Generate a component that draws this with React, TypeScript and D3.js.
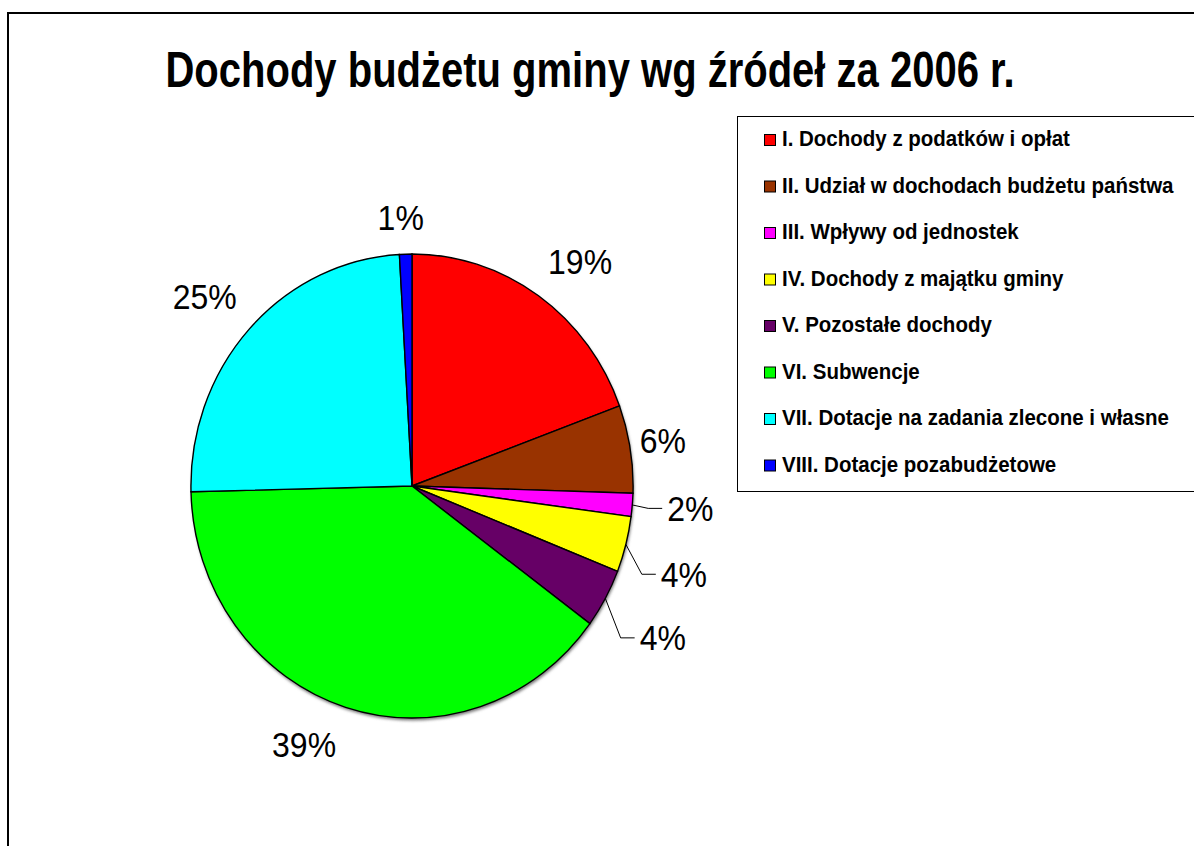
import React from "react";
import * as d3 from "d3";

const categories = [
  "I. Dochody z podatków i opłat",
  "II. Udział w dochodach budżetu państwa",
  "III. Wpływy od jednostek",
  "IV. Dochody z majątku gminy",
  "V. Pozostałe dochody",
  "VI. Subwencje",
  "VII. Dotacje na zadania zlecone i własne",
  "VIII. Dotacje pozabudżetowe",
];
const values = [19.4, 6.1, 1.6, 3.9, 4.1, 39.5, 24.5, 0.9];
const percentLabels = ["19%", "6%", "2%", "4%", "4%", "39%", "25%", "1%"];
const colors = ["#FF0000", "#993300", "#FF00FF", "#FFFF00", "#660066", "#00FF00", "#00FFFF", "#0000FF"];
// label placement: [angle shift from slice middle (deg), radius factor], leader line flag
const labelShift = [3.2, -0.5, -0.3, 2.6, 1.0, 6.2, -1.7, -0.9];
const labelRadius = [1.232, 1.151, 1.263, 1.288, 1.31, 1.217, 1.242, 1.16];
const hasLeader = [false, false, true, true, true, false, false, false];

const title = "Dochody budżetu gminy wg źródeł za 2006 r.";

export default function App() {
  const W = 1194, H = 846;
  const cx = 412, cy = 486, rx = 221, ry = 232;
  const pie = d3.pie<number>().sort(null).value((d) => d)(values);
  const arc = d3.arc<d3.PieArcDatum<number>>().innerRadius(0).outerRadius(1);
  const fs = 32;
  const font = "'Liberation Sans', Arial, sans-serif";
  const ptAt = (a: number, r: number) => [cx + rx * r * Math.sin(a), cy - ry * r * Math.cos(a)];

  const legendY0 = 146, legendStep = 46.5;

  return (
    <svg width={W} height={H} style={{ position: "absolute", left: 0, top: 0 }} fontFamily={font}>
      <defs>
        <filter id="sh" x="-10%" y="-10%" width="120%" height="120%">
          <feGaussianBlur stdDeviation="1.5" />
        </filter>
      </defs>
      <rect x={0} y={0} width={W} height={H} fill="#fff" />
      <rect x={8} y={13} width={W + 20} height={H + 20} fill="none" stroke="#000" strokeWidth={2} />
      <g transform="translate(590,87) scale(1,1.27)">
        <text x={0} y={0} textAnchor="middle" fontSize={40} fontWeight="bold" fill="#000">{title}</text>
      </g>

      <ellipse cx={cx + 1} cy={cy + 2.5} rx={rx} ry={ry} fill="#777" filter="url(#sh)" />
      <g transform={`translate(${cx},${cy}) scale(${rx},${ry})`}>
        {pie.map((p, i) => (
          <path key={i} d={arc(p) || ""} fill={colors[i]} stroke="#000" strokeWidth={1.4} vectorEffect="non-scaling-stroke" />
        ))}
      </g>

      {pie.map((p, i) => {
        const mid = (p.startAngle + p.endAngle) / 2;
        const a = mid + (labelShift[i] * Math.PI) / 180;
        const [lx, ly] = ptAt(a, labelRadius[i]);
        const txt = percentLabels[i];
        const tw = fs * (0.556 * (txt.length - 1) + 0.889);
        let leader = null;
        if (hasLeader[i]) {
          const [sx, sy] = ptAt(mid, 1);
          const left = lx - tw / 2;
          leader = (
            <polyline points={`${sx},${sy} ${left - 19},${ly} ${left - 5},${ly}`} fill="none" stroke="#000" strokeWidth={1} />
          );
        }
        return (
          <g key={i}>
            {leader}
            <g transform={`translate(${lx},${ly + fs * 0.358 * 1.08}) scale(1,1.08)`}>
              <text x={0} y={0} textAnchor="middle" fontSize={fs} fill="#000">{txt}</text>
            </g>
          </g>
        );
      })}

      <rect x={737.5} y={116.5} width={500} height={375} fill="#fff" stroke="#000" strokeWidth={1} />
      {categories.map((c, i) => {
        const by = legendY0 + i * legendStep;
        return (
          <g key={i}>
            <rect x={764.5} y={by - 11.5} width={11} height={11} fill={colors[i]} stroke="#000" strokeWidth={1} />
            <g transform={`translate(782,${by}) scale(1,1.05)`}>
              <text x={0} y={0} fontSize={20.5} fontWeight="bold" fill="#000">{c}</text>
            </g>
          </g>
        );
      })}
    </svg>
  );
}
